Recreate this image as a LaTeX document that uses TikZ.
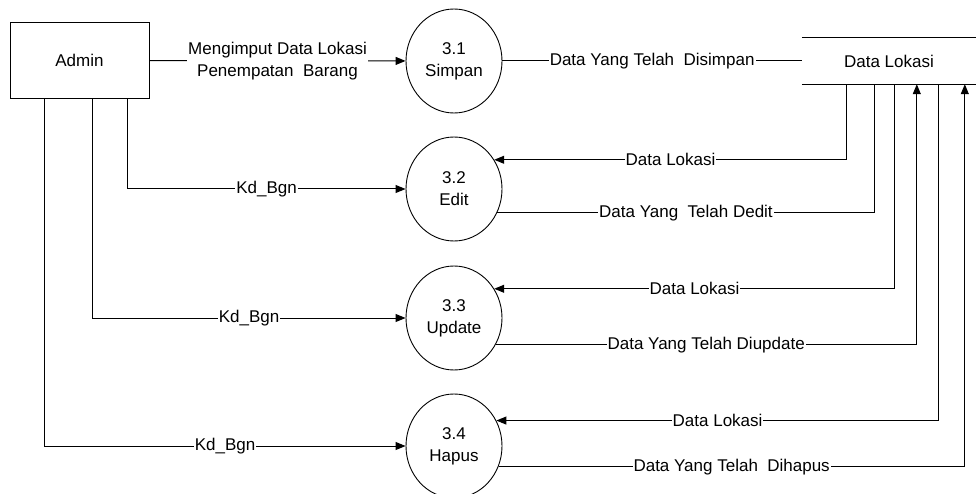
\documentclass[tikz,border=0pt]{standalone}
\usepackage{fontspec}
\setmainfont{Liberation Sans}
\usetikzlibrary{arrows.meta,shapes.geometric}
\tikzset{
  ent/.style={draw,line width=1pt,minimum width=139pt,minimum height=76pt,inner sep=0pt},
  proc/.style={draw,ellipse,line width=0.9pt,minimum width=96pt,minimum height=104pt,inner sep=0pt,align=center},
  lbl/.style={fill=white,inner sep=1pt,align=center},
  link/.style={line width=1pt},
  flow/.style={link,-{Triangle[length=10pt,width=8pt]}}
}
\begin{document}
\begin{tikzpicture}[x=1pt,y=-1pt,font=\fontsize{17}{22}\selectfont]
        \useasboundingbox (0,0) rectangle (976,494);
        \node[ent] (admin) at (79.5,60.5) {Admin};
        \node[proc] (p1) at (454,61) {3.1\\Simpan};
        \node[proc] (p2) at (454,189) {3.2\\Edit};
        \node[proc] (p3) at (454,318) {3.3\\Update};
        \node[proc] (p4) at (454,446) {3.4\\Hapus};
        \node[minimum width=174pt,minimum height=46pt,inner sep=0pt] (store) at (889,61) {Data Lokasi};
        \draw[link] (store.north west) -- (store.north east);
        \draw[link] (store.south west) -- (store.south east);
        \draw[flow] (admin) -- node[lbl]{Mengimput Data Lokasi\\Penempatan\ \ Barang} (p1);
        \draw[link] (p1) -- node[lbl]{Data Yang Telah\ \ Disimpan} (store);
        \draw[flow] ([xshift=118pt]admin.south west) |- node[lbl,pos=0.75]{Kd\_Bgn} (p2);
        \draw[flow] ([xshift=83pt]admin.south west) |- node[lbl,pos=0.75]{Kd\_Bgn} (p3);
        \draw[flow] ([xshift=35pt]admin.south west) |- node[lbl,pos=0.75]{Kd\_Bgn} (p4);
        \draw[flow] ([xshift=45pt]store.south west) |- node[lbl,pos=0.75]{Data Lokasi} (p2.36);
        \draw[link] (p2.-29) -| node[lbl,pos=0.25]{Data Yang\ \ Telah Dedit} ([xshift=73pt]store.south west);
        \draw[flow] ([xshift=93pt]store.south west) |- node[lbl,pos=0.75]{Data Lokasi} (p3.36);
        \draw[flow] (p3.-33) -| node[lbl,pos=0.25]{Data Yang Telah Diupdate} ([xshift=115pt]store.south west);
        \draw[flow] ([xshift=137pt]store.south west) |- node[lbl,pos=0.75]{Data Lokasi} (p4.31);
        \draw[flow] (p4.-25) -| node[lbl,pos=0.25]{Data Yang Telah\ \ Dihapus} ([xshift=163pt]store.south west);
        \end{tikzpicture}
\end{document}
